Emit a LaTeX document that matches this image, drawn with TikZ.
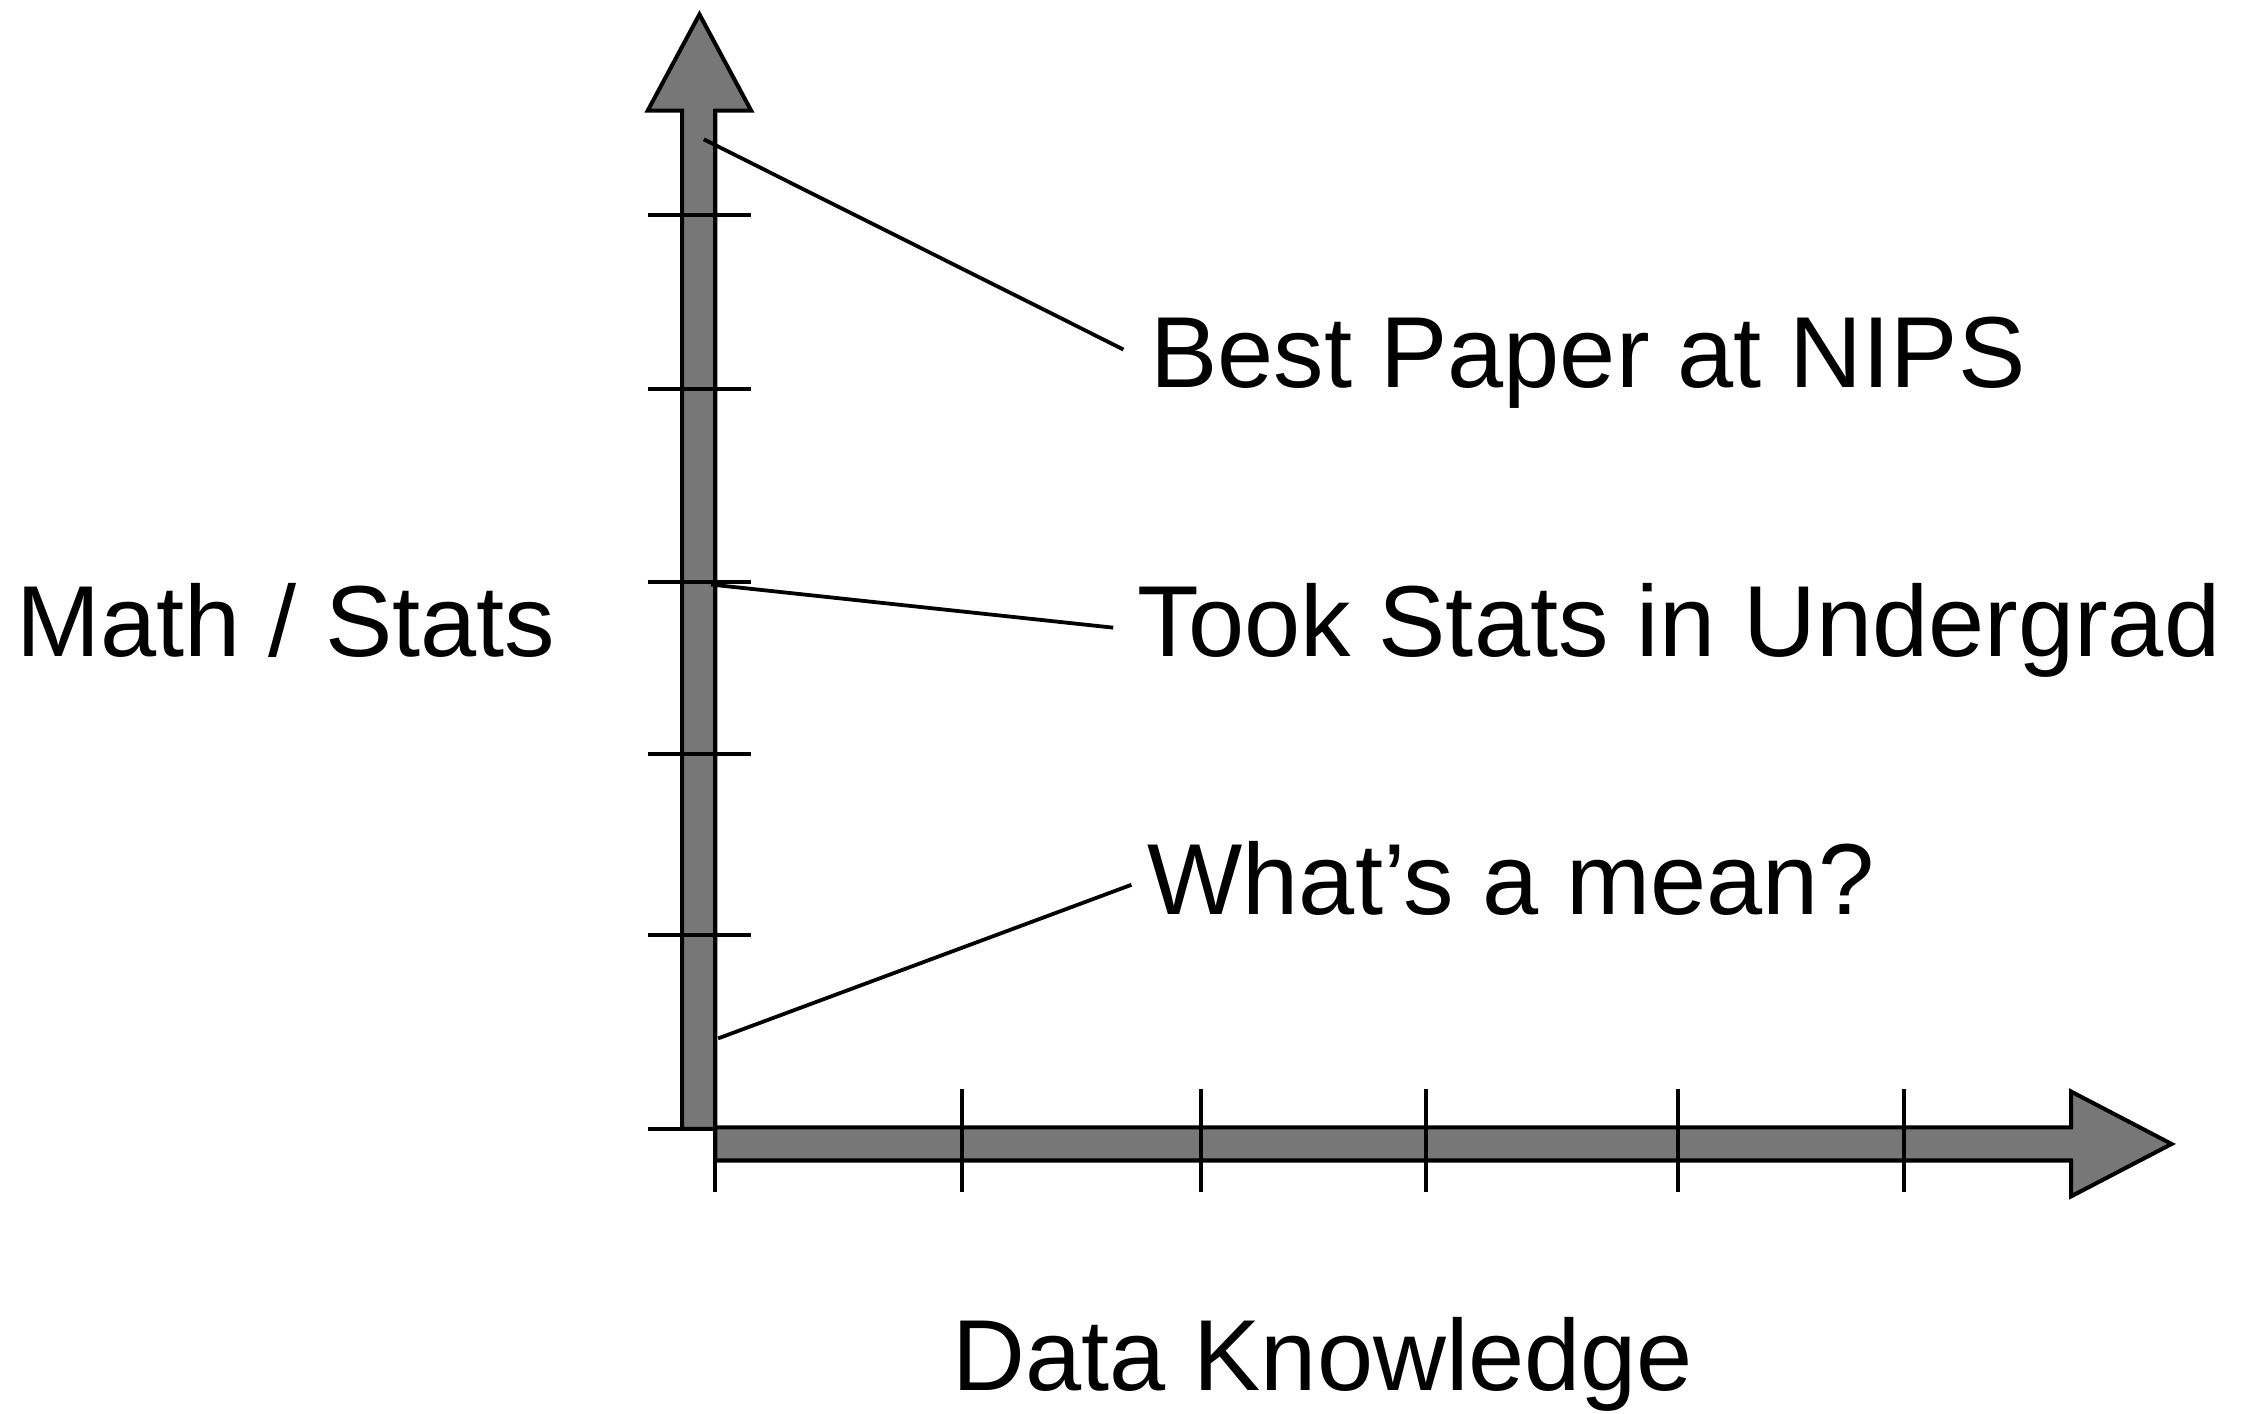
\documentclass[tikz,border=0pt]{standalone}
\usepackage{fontspec}
\setmainfont{Liberation Sans}
\definecolor{axisgray}{RGB}{119,119,119}
\tikzset{
	axisarrow/.style={draw=black,fill=axisgray,line width=1.6pt,line join=miter},
	axtick/.style={black,line width=1.6pt},
	lead/.style={black,line width=1.5pt},
	levelnote/.style={inner sep=0pt,outer sep=0pt,font=\fontsize{40}{48}\selectfont}
}
\begin{document}
\begin{tikzpicture}[x=0.02cm,y=-0.02cm]
	\useasboundingbox (0,0) rectangle (1568,984);
	\draw[axisarrow] (475,786) -- (475,77) -- (451,77) -- (487,10) -- (523,77) -- (498,77) -- (498,786) -- cycle;
	\draw[axisarrow] (498,785) -- (1442,785) -- (1442,760) -- (1512,796.5) -- (1442,833) -- (1442,808) -- (498,808) -- cycle;
	\foreach \y in {150,271,405,525,651}
		\draw[axtick] (451,\y) -- (523,\y);
	\draw[axtick] (451,786) -- (498,786);
	\foreach \x in {498,670,836,993,1168,1326}
		\draw[axtick] (\x,758) -- (\x,830);
	\node (math) at (199,457) [levelnote,anchor=base] {Math / Stats};
	\node (data) at (921,968) [levelnote,anchor=base] {Data Knowledge};
	\node (best) at (801,270) [levelnote,anchor=base west] {Best Paper at NIPS};
	\node (took) at (792,457) [levelnote,anchor=base west] {Took Stats in Undergrad};
	\node (mean) at (799,637) [levelnote,anchor=base west] {What’s a mean?};
	\coordinate (high) at (490,97);
	\coordinate (middle) at (495,407);
	\coordinate (low) at (500,723);
	\draw[lead,shorten >=0.42cm] (high) -- (best.west);
	\draw[lead,shorten >=0.34cm] (middle) -- (took.west);
	\draw[lead,shorten >=0.24cm] (low) -- (mean.west);
\end{tikzpicture}
\end{document}
